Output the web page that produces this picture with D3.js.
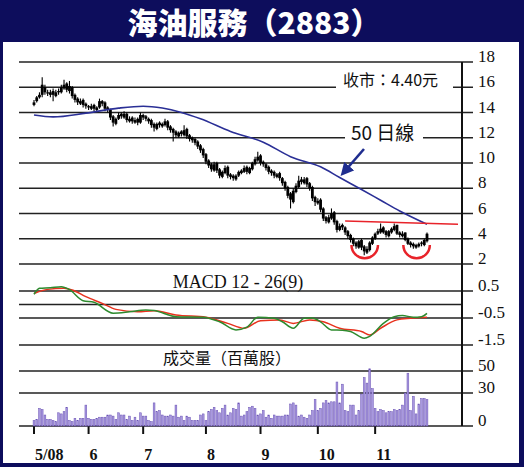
<!DOCTYPE html>
<html>
<head>
<meta charset="utf-8">
<script src="https://d3js.org/d3.v7.min.js"></script>
<style>
  body { margin: 0; background: #fff; }
  svg { display: block; }
</style>
</head>
<body>
<svg width="524" height="467"></svg>
<script>
// ---- data (trading-day index 0..144, May 2 .. late Nov 2008) ----
const monthTicks = [0, 20, 40, 63, 83, 104, 125];
const monthLabels = ["5/08", "6", "7", "8", "9", "10", "11"];

const opens = [14.6,14.9,15.2,15.4,16.0,15.6,15.4,15.7,15.3,15.7,
15.6,15.9,16.3,15.7,16.0,15.4,15.1,14.7,15.0,14.7,
14.5,14.3,14.6,14.2,14.4,14.9,14.8,14.4,14.2,13.7,
13.1,13.5,13.9,13.6,13.9,13.3,13.6,13.2,13.5,13.2,
13.8,13.7,13.5,13.4,13.1,12.7,13.2,12.9,13.0,13.3,
12.9,12.7,12.5,12.1,12.5,12.2,12.7,12.2,12.0,11.9,
11.7,11.4,11.1,10.7,10.2,9.9,9.4,10.0,9.5,8.9,
9.2,9.7,9.1,9.0,8.7,9.0,9.2,9.3,9.7,9.2,
9.5,9.9,10.2,10.6,10.1,9.9,9.7,9.4,9.3,8.9,
9.2,8.8,8.5,8.1,7.6,6.9,7.7,8.1,8.7,8.4,
8.8,8.4,8.1,7.3,6.8,7.1,6.4,5.7,5.3,5.6,
6.1,5.4,4.7,5.1,4.9,4.6,4.3,4.0,3.7,3.3,
3.9,3.4,2.9,3.1,3.6,4.0,4.4,4.5,4.9,4.6,
4.2,4.5,4.7,5.1,4.5,4.2,4.5,4.0,3.7,3.6,
3.3,3.4,3.7,3.5,3.8];
const highs = [15.0,15.3,15.6,16.8,16.2,15.8,15.8,15.9,15.8,15.9,
16.2,16.6,16.4,16.5,16.1,15.5,15.2,15.1,15.1,14.8,
14.6,14.7,14.7,14.5,15.1,15.0,14.9,14.5,14.3,13.8,
13.6,14.0,14.0,14.1,14.0,13.7,13.7,13.6,13.6,14.0,
13.9,13.8,13.6,13.5,13.2,13.2,13.3,13.2,13.5,13.4,
13.0,12.8,12.6,12.5,12.6,13.0,12.8,12.3,12.1,12.0,
11.8,11.5,11.2,10.8,10.3,10.0,10.1,10.1,9.6,9.4,
9.8,9.8,9.2,9.1,9.1,9.4,9.5,9.8,9.8,9.7,
10.1,10.5,10.9,10.7,10.2,10.0,9.8,9.5,9.4,9.2,
9.3,8.9,8.6,8.2,7.7,8.0,8.4,9.0,8.9,8.9,
8.9,8.5,8.2,7.4,7.2,7.2,6.5,5.8,5.9,6.4,
6.2,5.5,5.2,5.2,5.0,4.7,4.4,4.1,3.8,3.9,
4.0,3.5,3.4,3.8,4.2,4.5,4.8,5.2,5.0,4.7,
4.7,4.9,5.2,5.1,4.6,4.6,4.5,4.1,3.8,3.7,
3.6,3.7,3.8,4.0,4.5];
const lows = [14.5,14.8,15.1,15.2,15.4,15.3,15.2,14.9,15.2,15.4,
15.5,15.8,15.6,15.5,15.1,14.8,14.6,14.6,14.4,14.3,
14.2,14.2,14.1,14.1,14.3,14.5,14.1,14.0,13.4,12.9,
13.0,13.4,13.5,13.5,13.2,13.2,13.1,13.1,13.0,13.1,
13.4,13.3,13.1,12.8,12.5,12.6,12.8,12.8,12.9,12.6,
12.4,11.7,12.0,12.0,12.1,12.1,11.9,11.7,11.6,11.4,
11.1,10.8,10.4,9.9,9.6,9.3,9.3,9.2,8.8,8.8,
9.1,8.8,8.7,8.6,8.6,8.9,9.1,9.2,9.1,9.1,
9.4,9.8,10.1,9.8,9.7,9.4,9.1,9.0,8.8,8.8,
8.6,8.2,7.8,7.2,6.4,6.8,7.6,8.0,8.3,8.3,
8.1,7.8,7.0,6.6,6.7,6.1,5.4,5.2,5.2,5.5,
5.1,4.5,4.6,4.7,4.3,4.0,3.7,3.4,3.2,3.2,
3.1,2.7,2.8,3.0,3.5,3.9,4.3,4.4,4.4,4.1,
4.1,4.4,4.6,4.3,4.1,4.1,3.8,3.5,3.3,3.2,
3.2,3.3,3.4,3.4,3.7];
const closes = [14.8,15.2,15.4,16.2,15.6,15.5,15.6,15.4,15.6,15.6,
16.0,16.2,15.8,16.1,15.3,15.0,14.8,14.9,14.6,14.5,
14.4,14.5,14.3,14.4,14.9,14.7,14.3,14.2,13.6,13.2,
13.5,13.8,13.7,13.9,13.4,13.5,13.3,13.4,13.2,13.8,
13.6,13.5,13.3,13.0,12.8,13.1,13.0,13.1,13.3,12.8,
12.6,12.4,12.2,12.4,12.3,12.6,12.1,11.9,11.8,11.6,
11.3,11.0,10.6,10.1,9.8,9.5,9.9,9.4,9.0,9.3,
9.6,9.0,8.9,8.8,9.0,9.3,9.4,9.6,9.3,9.6,
10.0,10.3,10.5,10.0,9.9,9.6,9.3,9.2,9.0,9.1,
8.8,8.4,8.0,7.4,7.1,7.8,8.2,8.6,8.5,8.7,
8.3,8.0,7.2,6.9,7.0,6.3,5.6,5.4,5.7,6.0,
5.3,4.7,5.0,4.9,4.5,4.2,3.9,3.6,3.4,3.8,
3.3,3.0,3.2,3.7,4.1,4.4,4.6,4.8,4.5,4.3,
4.6,4.8,5.0,4.4,4.3,4.4,3.9,3.6,3.5,3.4,
3.5,3.6,3.6,3.9,4.4];

// 50-day moving average, read at sample days
const maIdx = [0, 7, 19, 31, 40, 47, 54, 61, 72, 84, 94, 105, 112, 120, 127, 134, 144];
const maVal = [13.8, 13.65, 13.95, 14.35, 14.5, 14.35, 14.0, 13.5, 12.5, 11.65, 10.5, 9.7, 8.85, 7.9, 7.05, 6.2, 5.15];

// MACD (green) and signal (red), read at sample days
const macdIdx = [0, 2, 6, 10, 13, 18, 22, 29, 35, 41, 44, 52, 62, 68, 74, 78, 82, 88, 91, 95, 99, 102, 105, 109, 113, 116, 121, 123, 128, 132, 135, 139, 142, 144];
const macdVal = [0.38, 0.6, 0.62, 0.66, 0.55, 0.14, 0.08, -0.32, -0.27, -0.2, -0.22, -0.45, -0.47, -0.64, -0.94, -0.84, -0.47, -0.51, -0.64, -0.88, -0.51, -0.5, -0.64, -0.94, -0.95, -1.0, -1.25, -1.18, -0.7, -0.45, -0.41, -0.47, -0.45, -0.33];
const signalIdx = [0, 5, 11, 14, 19, 25, 30, 38, 44, 52, 63, 71, 77, 83, 90, 95, 101, 106, 112, 120, 123, 127, 133, 138, 144];
const signalVal = [0.41, 0.56, 0.6, 0.54, 0.29, 0.04, -0.18, -0.27, -0.23, -0.39, -0.47, -0.7, -0.88, -0.6, -0.57, -0.7, -0.57, -0.64, -0.88, -1.0, -1.13, -0.88, -0.57, -0.51, -0.47];

// volume, million shares
const volumes = [5,6,16,15,10,6,6,5,4,12,
11,13,17,5,4,7,5,7,7,19,
7,6,6,7,8,8,8,10,10,9,
6,12,10,10,6,9,5,8,5,12,
9,9,5,4,21,13,14,10,9,9,
10,9,19,8,9,5,9,8,5,5,
5,10,11,5,13,15,17,14,12,16,
19,10,12,16,15,21,9,10,13,17,
18,16,10,11,14,8,10,7,10,9,
9,9,10,10,20,21,19,9,10,8,
7,10,14,24,14,16,21,23,21,22,
22,40,21,38,14,13,19,19,10,14,
29,44,39,52,34,16,13,15,14,12,
13,13,15,14,15,19,30,48,14,27,
11,20,25,25,24];

const priceTicks = [18, 16, 14, 12, 10, 8, 6, 4, 2];
const macdTicks = [0.5, -0.5, -1.5];
const volTicks = [50, 30, 0];

// ---- drawing ----
const svg = d3.select("svg");
const navy = "#0d0d5c";

svg.append("rect").attr("width", 524).attr("height", 467).attr("fill", navy);
svg.append("rect").attr("x", 3).attr("y", 42).attr("width", 516).attr("height", 421).attr("fill", "#fff");

svg.append("text")
  .attr("x", 254).attr("y", 34)
  .attr("text-anchor", "middle")
  .attr("font-family", "Noto Sans CJK TC")
  .attr("font-weight", 900)
  .attr("font-size", 30)
  .attr("fill", "#fff")
  .text("海油服務（2883）");

const x = d3.scaleLinear().domain([0, 144]).range([34, 427]);
const yP = d3.scaleLinear().domain([2, 18]).range([264, 62]);
const yM = d3.scaleLinear().domain([-1.5, 0.5]).range([345, 291]);
const yV = d3.scaleLinear().domain([0, 50]).range([426, 371]);

const axisX = 462;
const serif = "Liberation Serif";

// gridlines + ticks (right side)
function grid(scale, ticks, tickExt) {
  const g = svg.append("g");
  g.selectAll("line").data(ticks).enter().append("line")
    .attr("x1", 19).attr("x2", tickExt)
    .attr("y1", d => scale(d)).attr("y2", d => scale(d))
    .attr("stroke", "#222").attr("stroke-width", 1.6);
  g.selectAll("text").data(ticks).enter().append("text")
    .attr("x", 478).attr("y", d => scale(d))
    .attr("font-family", serif).attr("font-size", 17)
    .attr("fill", "#111")
    .text(d => d);
}
grid(yP, priceTicks, 473);
grid(yM, macdTicks, 473);
// zero line of MACD without label
svg.append("line").attr("x1", 19).attr("x2", axisX)
  .attr("y1", yM(0)).attr("y2", yM(0))
  .attr("stroke", "#222").attr("stroke-width", 1.6);
grid(yV, volTicks, 473);

// right axis
svg.append("line").attr("x1", axisX).attr("x2", axisX).attr("y1", 62).attr("y2", 426)
  .attr("stroke", "#111").attr("stroke-width", 2);

// x ticks and month labels
svg.append("g").selectAll("line").data(monthTicks).enter().append("line")
  .attr("x1", d => x(d)).attr("x2", d => x(d))
  .attr("y1", 426).attr("y2", 434)
  .attr("stroke", "#111").attr("stroke-width", 2);
svg.append("g").selectAll("text").data(monthTicks).enter().append("text")
  .attr("x", d => x(d) + 1).attr("y", 460)
  .attr("font-family", serif).attr("font-weight", "bold").attr("font-size", 16)
  .attr("fill", "#111")
  .text((d, i) => monthLabels[i]);

// close label with white backing over the gridline
svg.append("rect").attr("x", 336).attr("y", 70).attr("width", 117).attr("height", 22).attr("fill", "#fff");
svg.append("text").attr("x", 343).attr("y", 86)
  .attr("font-family", "Noto Sans CJK TC").attr("font-size", 16).attr("fill", "#111")
  .text("收市：4.40元");

// 50 日線 label
svg.append("rect").attr("x", 345).attr("y", 120).attr("width", 78).attr("height", 24).attr("fill", "#fff");
svg.append("text").attr("x", 351).attr("y", 140)
  .attr("font-family", "Noto Sans CJK TC").attr("font-size", 19).attr("fill", "#111")
  .text("50 日線");

// candlesticks
const days = d3.range(closes.length);
const cg = svg.append("g");
cg.selectAll("line").data(days).enter().append("line")
  .attr("x1", d => x(d)).attr("x2", d => x(d))
  .attr("y1", d => yP(highs[d])).attr("y2", d => yP(lows[d]))
  .attr("stroke", "#000").attr("stroke-width", 1.1);
cg.selectAll("rect").data(days).enter().append("rect")
  .attr("x", d => x(d) - 1.4).attr("width", 2.8)
  .attr("y", d => yP(Math.max(opens[d], closes[d])))
  .attr("height", d => Math.max(1.2, Math.abs(yP(opens[d]) - yP(closes[d]))))
  .attr("fill", "#000");

// 50-day MA
svg.append("path")
  .datum(maIdx)
  .attr("fill", "none").attr("stroke", "#2a2f96").attr("stroke-width", 1.6)
  .attr("d", d3.line().x(d => x(d)).y((d, i) => yP(maVal[i])).curve(d3.curveMonotoneX));

// arrow pointing at MA
svg.append("defs").append("marker")
  .attr("id", "ah").attr("viewBox", "0 0 10 10").attr("refX", 6).attr("refY", 5)
  .attr("markerWidth", 5).attr("markerHeight", 5).attr("orient", "auto")
  .append("path").attr("d", "M0,0L10,5L0,10z").attr("fill", "#1f2d8f");
svg.append("line").attr("x1", 364).attr("y1", 149).attr("x2", 344).attr("y2", 172)
  .attr("stroke", "#1f2d8f").attr("stroke-width", 2.6).attr("marker-end", "url(#ah)");

// neckline and double bottom marks
svg.append("line").attr("x1", x(114)).attr("y1", yP(5.4)).attr("x2", 458).attr("y2", yP(5.15))
  .attr("stroke", "#e8232a").attr("stroke-width", 1.5);
const arc = d3.arc().innerRadius(12).outerRadius(14.5).startAngle(Math.PI / 2).endAngle(Math.PI * 1.5);
[121, 140].forEach(d => {
  svg.append("path").attr("d", arc())
    .attr("transform", `translate(${x(d) + 0.5},${yP(3.5)})`)
    .attr("fill", "#e8232a");
});

// MACD panel
svg.append("text").attr("x", 238).attr("y", 288).attr("text-anchor", "middle")
  .attr("font-family", serif).attr("font-size", 18).attr("fill", "#111")
  .text("MACD 12 - 26(9)");
svg.append("path").datum(signalIdx)
  .attr("fill", "none").attr("stroke", "#e8321e").attr("stroke-width", 1.5)
  .attr("d", d3.line().x(d => x(d)).y((d, i) => yM(signalVal[i])).curve(d3.curveMonotoneX));
svg.append("path").datum(macdIdx)
  .attr("fill", "none").attr("stroke", "#2e8a2e").attr("stroke-width", 1.5)
  .attr("d", d3.line().x(d => x(d)).y((d, i) => yM(macdVal[i])).curve(d3.curveMonotoneX));

// volume panel
svg.append("text").attr("x", 227).attr("y", 364).attr("text-anchor", "middle")
  .attr("font-family", "Noto Sans CJK TC").attr("font-size", 16).attr("fill", "#111")
  .text("成交量（百萬股）");
svg.append("g").selectAll("rect").data(days).enter().append("rect")
  .attr("x", d => x(d) - 0.9).attr("width", 1.8)
  .attr("y", d => yV(volumes[d]))
  .attr("height", d => yV(0) - yV(volumes[d]))
  .attr("fill", "#a898e0").attr("stroke", "#6a52b4").attr("stroke-width", 0.5);
</script>
</body>
</html>
